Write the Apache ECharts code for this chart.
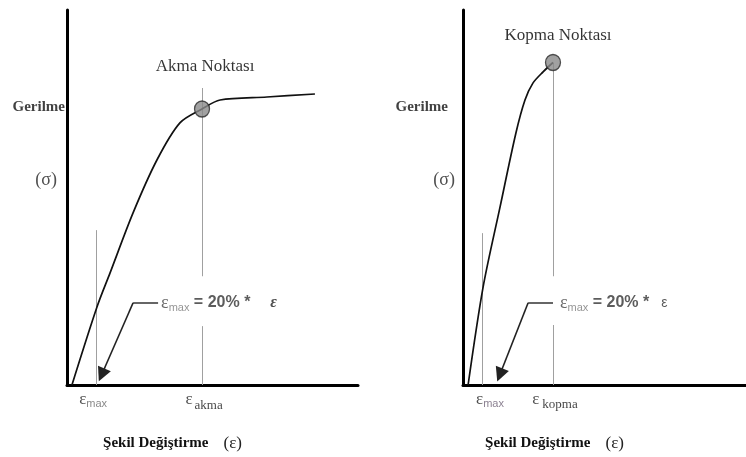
<!DOCTYPE html>
<html><head><meta charset="utf-8">
<script src="https://cdn.jsdelivr.net/npm/echarts@6/dist/echarts.min.js"></script>
<style>html,body{margin:0;padding:0;background:#fff}#c{width:746px;height:457px}</style>
</head><body><div id="c"></div>
<script>
// ---- Data (strain / stress in relative units, 0..100) ----
// Left panel: yield point (Akma Noktası)
const akmaStrain = [1.7, 10.3, 14.8, 22.7, 30.9, 38.8, 46.4, 52.6, 68.7, 85.2];
const akmaStress = [0, 20.8, 29.9, 45.9, 60, 69.9, 73.6, 76, 76.8, 77.6];
const akmaPoint = [46.4, 73.6];
const akmaEpsMax = 10;
const akmaEpsMaxTop = 41.3;
const akmaGuideTop = 79.2;
const akmaGap = [15.7, 29];
const akmaArrowX = [31.3, 22.7, 11.9];
const akmaArrowY = [21.9, 21.9, 2.7];
// Right panel: rupture point (Kopma Noktası)
const kopmaStrain = [1.8, 7.1, 13.1, 18.7, 21.9, 24.7, 28.3, 31.8];
const kopmaStress = [0, 26.1, 47.5, 67.2, 76, 80.5, 83.5, 86];
const kopmaPoint = [31.8, 86];
const kopmaEpsMax = 6.7;
const kopmaEpsMaxTop = 40.5;
const kopmaGap = [16, 29];
const kopmaArrowX = [31.8, 23, 13];
const kopmaArrowY = [21.9, 21.9, 2.7];
// Texts
const pointTitles = ['Akma Noktası', 'Kopma Noktası'];
const yTitle = 'Gerilme';
const ySymbol = '(σ)';
const xTitle = 'Şekil Değiştirme';
const xSymbol = '(ε)';
const pointSubs = ['akma', 'kopma'];
const ruleText = '= 20% *';

const SERIF = '"Liberation Serif","Times New Roman",serif';
const SANS = '"Liberation Sans",Arial,sans-serif';
const INK = '#111';

const pairs = (xs, ys) => xs.map((x, i) => [x, ys[i]]);

function textAt(g, x, y, label) {
  return { type: 'scatter', xAxisIndex: g, yAxisIndex: g, symbolSize: 0, silent: true, z: 6,
    clip: false, data: [[x, y]], label: Object.assign({ show: true }, label) };
}

const axisCommon = {
  type: 'value', min: 0, max: 100,
  axisLine: { show: true, onZero: false, lineStyle: { color: '#000', width: 3 } },
  axisTick: { show: false }, axisLabel: { show: false }, splitLine: { show: false }
};

function xAxisFor(g, shift) {
  return Object.assign({}, axisCommon, {
    gridIndex: g, name: '{b|' + xTitle + '}{r|' + xSymbol + '}', nameLocation: 'middle', nameGap: 50,
    nameTextStyle: { padding: [0, shift, 0, 0],
      rich: { b: { fontFamily: SERIF, fontWeight: 'bold', fontSize: 15, color: '#111' },
              r: { fontFamily: SERIF, fontSize: 17, color: '#222', padding: [0, 0, 0, 15] } } }
  });
}

function ruleLabel(distance, lastPad, italic) {
  return {
    position: 'right', distance: distance,
    formatter: '{e|ε}{s|max}{t| ' + ruleText + '}{f|ε}',
    rich: {
      e: { fontFamily: SERIF, fontSize: 18, color: '#444', lineHeight: 22 },
      s: { fontFamily: SANS, fontSize: 11, color: '#7a7a7a', lineHeight: 12, padding: [10, 0, 0, 0] },
      t: { fontFamily: SANS, fontSize: 16, fontWeight: 'bold', color: '#333', lineHeight: 22 },
      f: italic ? { fontFamily: SERIF, fontStyle: 'italic', fontWeight: 'bold', fontSize: 16, color: '#222', lineHeight: 22, padding: [0, 0, 0, lastPad] }
                : { fontFamily: SANS, fontSize: 14, color: '#333', lineHeight: 22, padding: [0, 0, 0, lastPad] }
    }
  };
}

function tickLabel(sub, subPad, offset, subColor, subFont, subSize) {
  return {
    position: 'bottom', distance: 6, offset: offset,
    formatter: '{e|ε}{s|' + sub + '}',
    rich: {
      e: { fontFamily: SERIF, fontSize: 17, color: '#222', lineHeight: 18, verticalAlign: 'top' },
      s: { fontFamily: subFont, fontSize: subSize, color: subColor, lineHeight: 13, padding: subPad }
    }
  };
}

const guide = { color: '#a0a0a0', width: 1, opacity: 1 };
const curveStyle = { color: INK, width: 1.7 };
const markerStyle = { color: '#8a8a8a', borderColor: '#2a2a2a', borderWidth: 1.3 };

function panel(g, strain, stress, pt, epsMax, epsMaxTop, guideTop, gap, arrowX, arrowY) {
  return [
    { type: 'lines', coordinateSystem: 'cartesian2d', xAxisIndex: g, yAxisIndex: g, silent: true, z: 2,
      lineStyle: guide,
      data: [
        { coords: [[epsMax, 0], [epsMax, epsMaxTop]] },
        { coords: [[pt[0], 0], [pt[0], gap[0]]] },
        { coords: [[pt[0], gap[1]], [pt[0], guideTop]] }
      ] },
    { type: 'line', xAxisIndex: g, yAxisIndex: g, data: pairs(strain, stress), smooth: 0.3,
      showSymbol: false, silent: true, z: 3, lineStyle: curveStyle },
    // arrow: horizontal leader + diagonal with head
    { type: 'lines', coordinateSystem: 'cartesian2d', xAxisIndex: g, yAxisIndex: g,
      silent: true, z: 4, symbol: 'none',
      lineStyle: { color: '#333', width: 1.5, opacity: 1 },
      data: [{ coords: [[arrowX[0], arrowY[0]], [arrowX[1], arrowY[1]]] }] },
    { type: 'lines', coordinateSystem: 'cartesian2d', xAxisIndex: g, yAxisIndex: g,
      silent: true, z: 4, symbol: ['none', 'triangle'], symbolSize: [11, 14],
      lineStyle: { color: '#222', width: 1.5, opacity: 1 },
      data: [{ coords: [[arrowX[1], arrowY[1]], [arrowX[2], arrowY[2]]] }] },
    { type: 'scatter', xAxisIndex: g, yAxisIndex: g, data: [pt], symbol: 'circle', symbolSize: [15, 16],
      silent: true, z: 5, itemStyle: markerStyle }
  ];
}

const series = [].concat(
  panel(0, akmaStrain, akmaStress, akmaPoint, akmaEpsMax, akmaEpsMaxTop, akmaGuideTop, akmaGap, akmaArrowX, akmaArrowY),
  panel(1, kopmaStrain, kopmaStress, kopmaPoint, kopmaEpsMax, kopmaEpsMaxTop, kopmaPoint[1], kopmaGap, kopmaArrowX, kopmaArrowY),
  [
    // point titles
    textAt(0, akmaPoint[0], akmaPoint[1], { position: 'inside', offset: [3, -42], formatter: pointTitles[0],
      fontFamily: SERIF, fontSize: 17, color: '#000' }),
    textAt(1, kopmaPoint[0], kopmaPoint[1], { position: 'inside', offset: [5, -27], formatter: pointTitles[1],
      fontFamily: SERIF, fontSize: 17, color: '#000' }),
    // y titles
    textAt(0, 0, 74.1, { position: 'left', distance: 2, formatter: yTitle, fontFamily: SERIF, fontWeight: 'bold', fontSize: 15, color: '#111' }),
    textAt(0, 0, 54.7, { position: 'left', distance: 10, formatter: ySymbol, fontFamily: SERIF, fontSize: 18, color: '#222' }),
    textAt(1, 0, 74.1, { position: 'left', distance: 15, formatter: yTitle, fontFamily: SERIF, fontWeight: 'bold', fontSize: 15, color: '#111' }),
    textAt(1, 0, 54.7, { position: 'left', distance: 8, formatter: ySymbol, fontFamily: SERIF, fontSize: 18, color: '#222' }),
    // rule annotations
    textAt(0, akmaArrowX[0], akmaArrowY[0], ruleLabel(3, 20, true)),
    textAt(1, kopmaArrowX[0], kopmaArrowY[0], ruleLabel(7, 12, false)),
    // tick labels under x axis
    textAt(0, akmaEpsMax, 0, tickLabel('max', [7, 0, 0, 0], [-3, 0], '#6a6a6a', SANS, 11)),
    textAt(1, kopmaEpsMax, 0, tickLabel('max', [7, 0, 0, 0], [8, 0], '#6e6276', SANS, 11)),
    textAt(0, akmaPoint[0], 0, tickLabel(pointSubs[0], [12, 0, 0, 2], [2, 0], '#111', SERIF, 13)),
    textAt(1, kopmaPoint[0], 0, tickLabel(pointSubs[1], [9, 0, 0, 3], [2, 0], '#111', SERIF, 13))
  ]
);

const chart = echarts.init(document.getElementById('c'));
chart.setOption({
  backgroundColor: '#fff',
  animation: false,
  grid: [
    { left: 67, top: 10, width: 291, height: 375 },
    { left: 463, top: 10, width: 283, height: 375 }
  ],
  xAxis: [xAxisFor(0, 80), xAxisFor(1, 100)],
  yAxis: [Object.assign({}, axisCommon, { gridIndex: 0 }), Object.assign({}, axisCommon, { gridIndex: 1 })],
  series: series
});
</script></body></html>
